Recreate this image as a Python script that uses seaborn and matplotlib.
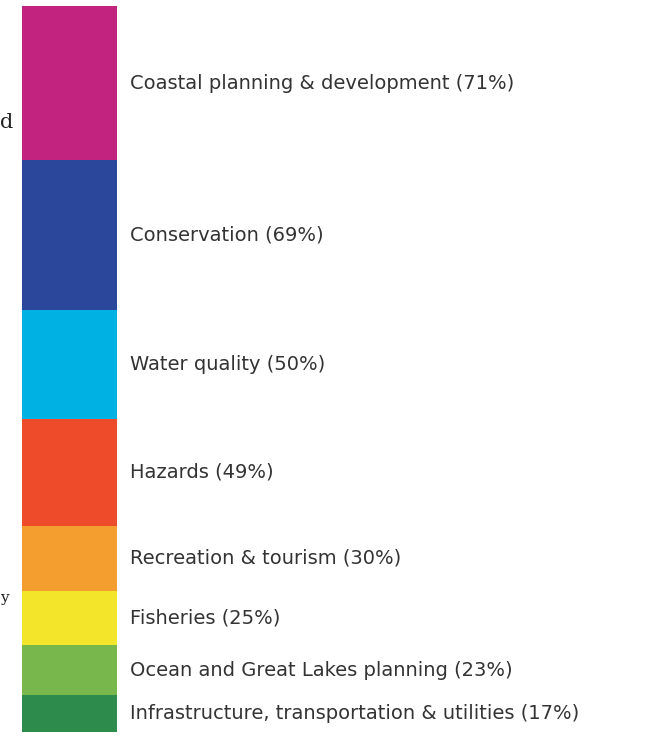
import numpy as np
import matplotlib
matplotlib.use("Agg")
import matplotlib.pyplot as plt
import matplotlib.transforms as mtransforms
import seaborn as sns

# topic areas and share of respondents (%)
topics = [
    "Coastal planning & development",
    "Conservation",
    "Water quality",
    "Hazards",
    "Recreation & tourism",
    "Fisheries",
    "Ocean and Great Lakes planning",
    "Infrastructure, transportation & utilities",
]
percents = [71, 69, 50, 49, 30, 25, 23, 17]
colors = ["#C2237E", "#2B479B", "#00B2E3", "#EE4B2A",
          "#F39E2E", "#F3E62A", "#78B74B", "#2D8C4B"]

sns.set_theme(style="white")
plt.rcParams["font.family"] = ["DejaVu Sans"]

fig = plt.figure(figsize=(6.54, 7.38), dpi=100)
ax = fig.add_axes([22 / 654, 6 / 738, 95 / 654, 726 / 738])

bottoms = np.concatenate([[0], np.cumsum(percents)[:-1]])
for topic, pct, bottom, col in zip(topics, percents, bottoms, colors):
    ax.bar(0, pct, bottom=bottom, width=1.0, color=col, edgecolor="none")

total = sum(percents)
ax.set_xlim(-0.5, 0.5)
ax.set_ylim(total, 0)
ax.axis("off")

trans = mtransforms.blended_transform_factory(ax.transAxes, ax.transData)
for topic, pct, bottom in zip(topics, percents, bottoms):
    ax.text(1.137, bottom + pct / 2, f"{topic} ({pct}%)", transform=trans,
            ha="left", va="center", fontsize=14, color="#333333", clip_on=False)

# cut-off text fragments from neighbouring content on the left edge
fig.text(0.0, 1 - 123 / 738, "d", fontsize=15, family="DejaVu Serif",
         color="#222222", va="center", ha="left")
fig.text(0.0, 1 - 598 / 738, "y", fontsize=11, family="DejaVu Serif",
         color="#222222", va="center", ha="left")

fig.savefig("out.png", dpi=100, facecolor="white")
